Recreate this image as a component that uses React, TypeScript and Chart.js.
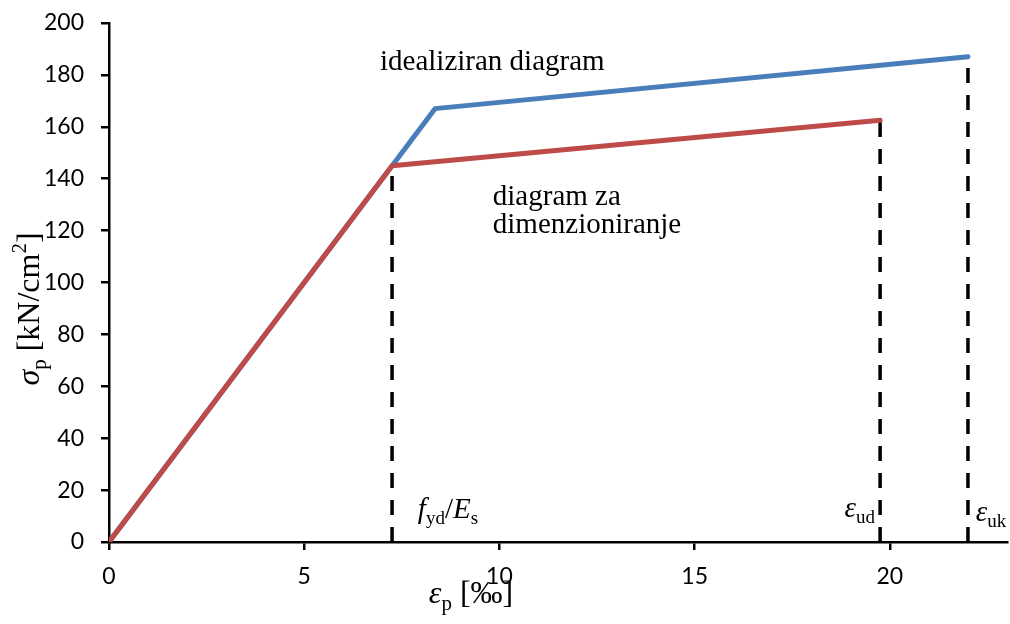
import React, { useEffect, useRef } from "react";
import { Chart, registerables } from "chart.js";

Chart.register(...registerables);

// Idealised stress–strain diagram of prestressing steel
const idealStrain = [0, 8.35, 22];
const idealStress = [0, 167, 187];

// Design diagram
const designStrain = [0, 7.25, 19.75];
const designStress = [0, 145, 162.5];

// Vertical dashed markers: fyd/Es, εud, εuk
const markerStrain = [7.25, 19.75, 22];
const markerStress = [145, 162.5, 187];

const xTickValues = [0, 5, 10, 15, 20];
const yTickValues = [0, 20, 40, 60, 80, 100, 120, 140, 160, 180, 200];

const SERIF = "'Liberation Serif', 'Times New Roman', serif";
const TICK_FONT = "Lato, 'Open Sans', sans-serif";

type Run = { text: string; font: string; dy?: number };

const main = (italic = false) => `${italic ? "italic " : ""}29px ${SERIF}`;
const small = (italic = false) => `${italic ? "italic " : ""}19px ${SERIF}`;
const big = (italic = false) => `${italic ? "italic " : ""}32px ${SERIF}`;
const bigSmall = (italic = false) => `${italic ? "italic " : ""}21px ${SERIF}`;

function runsWidth(ctx: CanvasRenderingContext2D, runs: Run[]) {
  let w = 0;
  for (const r of runs) {
    ctx.font = r.font;
    w += ctx.measureText(r.text).width;
  }
  return w;
}

function drawRuns(
  ctx: CanvasRenderingContext2D,
  runs: Run[],
  x: number,
  y: number,
  align: "left" | "center" | "right" = "left"
) {
  const w = runsWidth(ctx, runs);
  let cx = align === "left" ? x : align === "center" ? x - w / 2 : x - w;
  ctx.textAlign = "left";
  ctx.textBaseline = "alphabetic";
  for (const r of runs) {
    ctx.font = r.font;
    ctx.fillText(r.text, cx, y + (r.dy || 0));
    cx += ctx.measureText(r.text).width;
  }
}

// Labels placed in data coordinates (strain, stress at baseline)
const annotations: { x: number; y: number; align: "left" | "right"; runs: Run[] }[] = [
  { x: 6.94, y: 181.9, align: "left", runs: [{ text: "idealiziran diagram", font: main() }] },
  { x: 9.83, y: 129.9, align: "left", runs: [{ text: "diagram za", font: main() }] },
  { x: 9.83, y: 119.1, align: "left", runs: [{ text: "dimenzioniranje", font: main() }] },
  {
    x: 7.91,
    y: 9.2,
    align: "left",
    runs: [
      { text: "f", font: main(true) },
      { text: "yd", font: small(), dy: 6 },
      { text: "/", font: main() },
      { text: "E", font: main(true) },
      { text: "s", font: small(), dy: 6 },
    ],
  },
  {
    x: 19.62,
    y: 9.6,
    align: "right",
    runs: [
      { text: "ε", font: main(true) },
      { text: "ud", font: small(), dy: 6 },
    ],
  },
  {
    x: 22.2,
    y: 8.1,
    align: "left",
    runs: [
      { text: "ε", font: main(true) },
      { text: "uk", font: small(), dy: 6 },
    ],
  },
];

const labelsPlugin = {
  id: "labelsPlugin",
  afterDraw(chart: any) {
    const ctx: CanvasRenderingContext2D = chart.ctx;
    const xs = chart.scales.x;
    const ys = chart.scales.y;
    ctx.save();
    ctx.fillStyle = "#000";
    for (const a of annotations) {
      drawRuns(ctx, a.runs, xs.getPixelForValue(a.x), ys.getPixelForValue(a.y), a.align);
    }
    // x axis title
    drawRuns(
      ctx,
      [
        { text: "ε", font: big(true) },
        { text: "p", font: bigSmall(), dy: 7 },
        { text: " [‰]", font: big() },
      ],
      471,
      603,
      "center"
    );
    // y axis title (rotated)
    ctx.translate(39, 309);
    ctx.rotate(-Math.PI / 2);
    drawRuns(
      ctx,
      [
        { text: "σ", font: big(true) },
        { text: "p", font: bigSmall(), dy: 7 },
        { text: " [kN/cm", font: big() },
        { text: "2", font: bigSmall(), dy: -13 },
        { text: "]", font: big() },
      ],
      0,
      0,
      "center"
    );
    ctx.restore();
  },
};

const toPoints = (xs: number[], ys: number[]) => xs.map((x, i) => ({ x, y: ys[i] }));

export default function App() {
  const canvasRef = useRef<HTMLCanvasElement | null>(null);

  useEffect(() => {
    if (!canvasRef.current) return;

    const markerSets = markerStrain.map((s, i) => ({
      label: `marker${i}`,
      data: [
        { x: s, y: 0 },
        { x: s, y: markerStress[i] },
      ],
      borderColor: "#000",
      borderWidth: 3.5,
      borderDash: [15, 12],
      pointRadius: 0,
      order: 3,
    }));

    const chart = new Chart(canvasRef.current, {
      type: "line",
      data: {
        datasets: [
          {
            label: "idealiziran diagram",
            data: toPoints(idealStrain, idealStress),
            borderColor: "#4A7EBB",
            borderWidth: 5,
            pointRadius: 0,
            borderCapStyle: "round",
            borderJoinStyle: "round",
            order: 2,
          },
          {
            label: "diagram za dimenzioniranje",
            data: toPoints(designStrain, designStress),
            borderColor: "#BE4B48",
            borderWidth: 5,
            pointRadius: 0,
            borderCapStyle: "round",
            borderJoinStyle: "round",
            order: 1,
          },
          ...markerSets,
        ] as any,
      },
      options: {
        animation: false,
        responsive: false,
        maintainAspectRatio: false,
        layout: { padding: { top: 23, right: 3, left: 0, bottom: 0 } },
        plugins: {
          legend: { display: false },
          tooltip: { enabled: false },
        },
        scales: {
          x: {
            type: "linear",
            min: 0,
            max: 23,
            afterFit: (s: any) => {
              s.height = 82;
              s.paddingLeft = 0;
              s.paddingRight = 0;
            },
            afterBuildTicks: (s: any) => {
              s.ticks = xTickValues.map((v) => ({ value: v }));
            },
            grid: {
              drawOnChartArea: false,
              drawTicks: true,
              tickLength: 8,
              color: "#000",
              lineWidth: 2.5,
            },
            border: { display: true, color: "#000", width: 2.5 },
            ticks: {
              color: "#000",
              font: { family: TICK_FONT, size: 23 },
              padding: 13,
              maxRotation: 0,
            },
          },
          y: {
            type: "linear",
            min: 0,
            max: 200,
            afterFit: (s: any) => {
              s.width = 109;
              s.paddingTop = 0;
              s.paddingBottom = 0;
            },
            afterBuildTicks: (s: any) => {
              s.ticks = yTickValues.map((v) => ({ value: v }));
            },
            grid: {
              drawOnChartArea: false,
              drawTicks: true,
              tickLength: 8,
              color: "#000",
              lineWidth: 2.5,
            },
            border: { display: true, color: "#000", width: 2.5 },
            ticks: {
              color: "#000",
              font: { family: TICK_FONT, size: 23 },
              padding: 17,
            },
          },
        },
      } as any,
      plugins: [labelsPlugin],
    });

    return () => chart.destroy();
  }, []);

  return (
    <div style={{ position: "fixed", left: 0, top: 0, width: 1010, height: 624, background: "#fff" }}>
      <canvas ref={canvasRef} width={1010} height={624} style={{ display: "block" }} />
    </div>
  );
}
